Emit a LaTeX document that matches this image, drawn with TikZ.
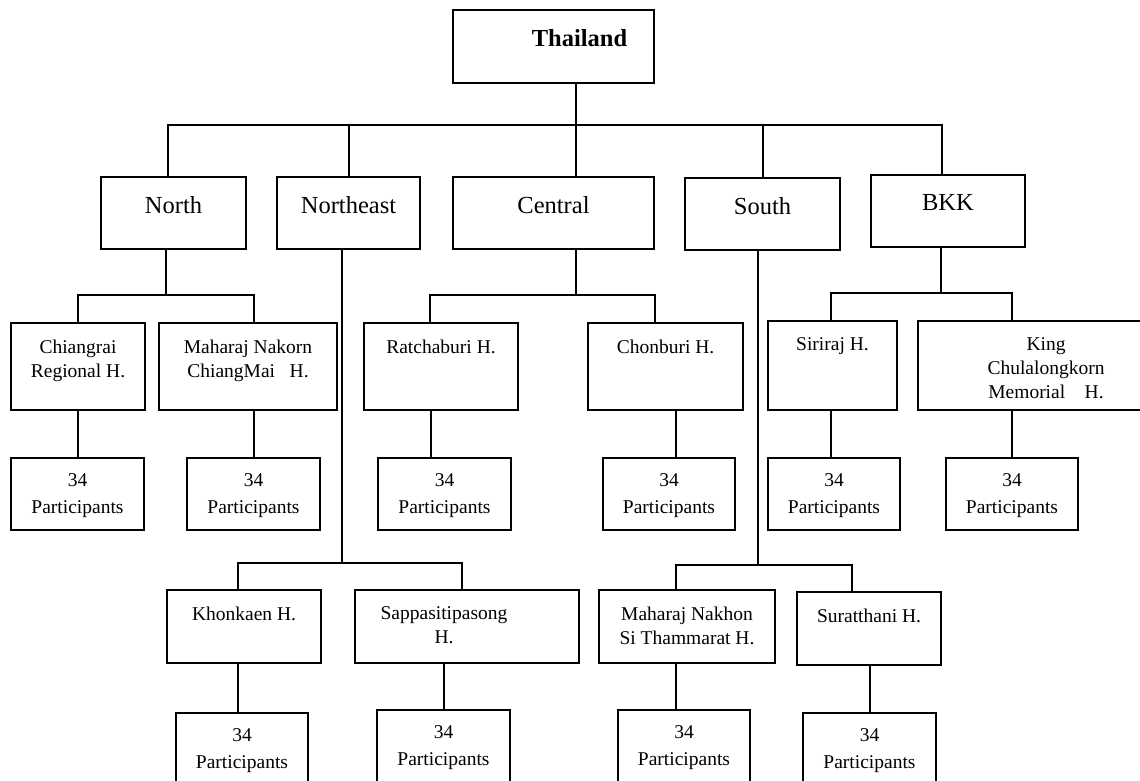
\documentclass[tikz,border=0pt]{standalone}
\usepackage{fontspec}
\setmainfont{Liberation Serif}

\begin{document}
\begin{tikzpicture}[x=1pt,y=-1pt,line width=2pt,
	box/.style={draw,rectangle,anchor=north west,inner sep=0pt},
	regtxt/.style={anchor=north,inner sep=0pt,align=center,yshift=-19pt,font=\fontsize{24.5}{29}\selectfont},
	hosptxt/.style={anchor=north,inner sep=0pt,align=center,yshift=-17pt,font=\fontsize{19.5}{24}\selectfont},
	parttxt/.style={anchor=north,inner sep=0pt,align=center,yshift=-16pt,font=\fontsize{19.5}{26.5}\selectfont}]
\useasboundingbox (0,0) rectangle (1140,780);
\clip (0,0) rectangle (1140,780);

\node[box,minimum width=201pt,minimum height=73pt,label={[regtxt,xshift=26pt]north:\textbf{Thailand}}] (thai) at (452,9) {};

\node[box,minimum width=145pt,minimum height=72pt,label={[regtxt]north:North}] (north) at (100,176) {};
\node[box,minimum width=143pt,minimum height=72pt,label={[regtxt]north:Northeast}] (ne) at (276,176) {};
\node[box,minimum width=201pt,minimum height=72pt,label={[regtxt]north:Central}] (central) at (452,176) {};
\node[box,minimum width=155pt,minimum height=72pt,label={[regtxt]north:South}] (south) at (684,177) {};
\node[box,minimum width=154pt,minimum height=72pt,label={[regtxt]north:BKK}] (bkk) at (870,174) {};

\node[box,minimum width=134pt,minimum height=87pt,label={[hosptxt]north:Chiangrai\\Regional H.}] (cr) at (10,322) {};
\node[box,minimum width=178pt,minimum height=87pt,label={[hosptxt]north:Maharaj Nakorn\\ChiangMai\ \ \ H.}] (mn) at (158,322) {};
\node[box,minimum width=154pt,minimum height=87pt,label={[hosptxt]north:Ratchaburi H.}] (rb) at (363,322) {};
\node[box,minimum width=155pt,minimum height=87pt,label={[hosptxt]north:Chonburi H.}] (cb) at (587,322) {};
\node[box,minimum width=129pt,minimum height=89pt,label={[hosptxt]north:Siriraj H.}] (sr) at (767,320) {};
\node[box,minimum width=256pt,minimum height=89pt,label={[hosptxt]north:King\\Chulalongkorn\\Memorial\ \ \ \ H.}] (kc) at (917,320) {};

\node[box,minimum width=133pt,minimum height=72pt,label={[parttxt]north:34\\Participants}] (crp) at (10,457) {};
\node[box,minimum width=133pt,minimum height=72pt,label={[parttxt]north:34\\Participants}] (mnp) at (186,457) {};
\node[box,minimum width=133pt,minimum height=72pt,label={[parttxt]north:34\\Participants}] (rbp) at (377,457) {};
\node[box,minimum width=132pt,minimum height=72pt,label={[parttxt]north:34\\Participants}] (cbp) at (602,457) {};
\node[box,minimum width=132pt,minimum height=72pt,label={[parttxt]north:34\\Participants}] (srp) at (767,457) {};
\node[box,minimum width=132pt,minimum height=72pt,label={[parttxt]north:34\\Participants}] (kcp) at (945,457) {};

\node[box,minimum width=154pt,minimum height=73pt,label={[hosptxt]north:Khonkaen H.}] (kk) at (166,589) {};
\node[box,minimum width=224pt,minimum height=73pt,label={[hosptxt,xshift=-23pt]north:Sappasitipasong\\H.}] (sp) at (354,589) {};
\node[box,minimum width=176pt,minimum height=73pt,label={[hosptxt]north:Maharaj Nakhon\\Si Thammarat H.}] (mt) at (598,589) {};
\node[box,minimum width=144pt,minimum height=73pt,label={[hosptxt]north:Suratthani H.}] (st) at (796,591) {};

\node[box,minimum width=132pt,minimum height=80pt,label={[parttxt]north:34\\Participants}] (kkp) at (175,712) {};
\node[box,minimum width=133pt,minimum height=80pt,label={[parttxt]north:34\\Participants}] (spp) at (376,709) {};
\node[box,minimum width=132pt,minimum height=80pt,label={[parttxt]north:34\\Participants}] (mtp) at (617,709) {};
\node[box,minimum width=133pt,minimum height=80pt,label={[parttxt]north:34\\Participants}] (stp) at (802,712) {};

\coordinate (tj) at (576,125);
\coordinate (nj) at (166,295);
\coordinate (cj) at (576,295);
\coordinate (bj) at (941,293);
\coordinate (nej) at (342,563);
\coordinate (sj) at (758,565);

\draw (thai.south -| tj) -- (central.north -| tj);
\draw ([xshift=-6pt]north.north) |- (tj) -| ([xshift=-6pt]bkk.north);
\draw (ne.north) -- (ne.north |- tj);
\draw (south.north) -- (south.north |- tj);

\draw (north.south -| nj) -- (nj);
\draw (cr.north) |- (nj) -| (mn.north -| mnp.north);
\draw (cr.south) -- (cr.south |- crp.north);
\draw (mn.south -| mnp.north) -- (mnp.north);

\draw (central.south -| cj) -- (cj);
\draw ([xshift=-11pt]rb.north) |- (cj) -| ([xshift=-11pt]cb.north);
\draw ([xshift=-10pt]rb.south) -- ([xshift=-10pt]rb.south |- rbp.north);
\draw ([xshift=10pt]cb.south) -- ([xshift=10pt]cb.south |- cbp.north);

\draw (bkk.south -| bj) -- (bj);
\draw ([xshift=-2pt]sr.north) |- (bj) -| (kc.north -| kcp.north);
\draw ([xshift=-2pt]sr.south) -- ([xshift=-2pt]sr.south |- srp.north);
\draw (kc.south -| kcp.north) -- (kcp.north);

\draw (ne.south -| nej) -- (nej);
\draw ([xshift=-6pt]kk.north) |- (nej) -| ([xshift=-5pt]sp.north);
\draw ([xshift=-6pt]kk.south) -- ([xshift=-6pt]kk.south |- kkp.north);
\draw (sp.south -| spp.north) -- (spp.north);

\draw (south.south -| sj) -- (sj);
\draw ([xshift=-11pt]mt.north) |- (sj) -| ([xshift=-17pt]st.north);
\draw ([xshift=-11pt]mt.south) -- ([xshift=-11pt]mt.south |- mtp.north);
\draw (st.south -| stp.north) -- (stp.north);
\end{tikzpicture}
\end{document}
